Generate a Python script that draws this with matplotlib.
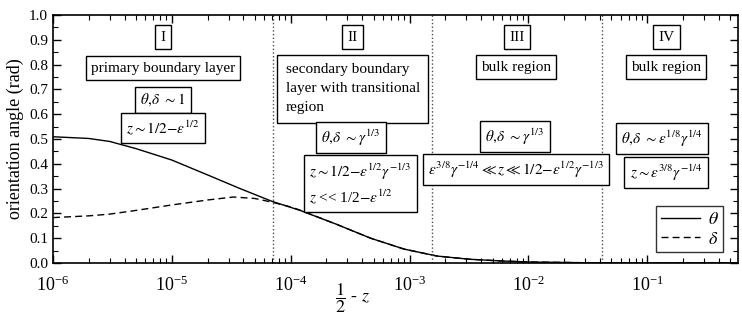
import matplotlib
matplotlib.use('Agg')
import matplotlib.pyplot as plt
from matplotlib.ticker import MultipleLocator, FormatStrFormatter

plt.rcParams['font.family'] = ['Liberation Serif', 'DejaVu Serif']
plt.rcParams['mathtext.fontset'] = 'stix'

# theta curve
x_theta = [1e-6, 2e-6, 3e-6, 5e-6, 1e-5, 2e-5, 3.75e-5, 7e-5, 1.2e-4, 2.4e-4,
           4.7e-4, 9e-4, 1.7e-3, 3.2e-3, 6e-3, 1e-2, 3e-2, 0.1, 0.58]
theta = [0.509, 0.502, 0.49, 0.461, 0.415, 0.355, 0.30, 0.248, 0.212, 0.157,
         0.100, 0.056, 0.028, 0.015, 0.008, 0.004, 0.001, 0.0, 0.0]

# delta curve
x_delta = [1e-6, 2e-6, 3e-6, 5e-6, 1e-5, 2e-5, 3.3e-5, 5e-5, 7e-5, 1e-4, 1.2e-4,
           2.4e-4, 4.7e-4, 9e-4, 1.7e-3, 3.2e-3, 6e-3, 1e-2, 3e-2, 0.1, 0.58]
delta = [0.183, 0.19, 0.197, 0.212, 0.234, 0.254, 0.266, 0.26, 0.245, 0.226, 0.213,
         0.157, 0.100, 0.056, 0.028, 0.015, 0.008, 0.004, 0.001, 0.0, 0.0]

# region boundaries
boundaries = [7.06e-5, 1.54e-3, 0.0415]

fig = plt.figure(figsize=(7.42, 3.18), dpi=100)
ax = fig.add_axes([0.0714, 0.173, 0.9232, 0.78])

ax.plot(x_theta, theta, color='black', lw=1.0, label=r'$\theta$')
ax.plot(x_delta, delta, color='black', lw=1.0, dashes=(5, 3), label=r'$\delta$')

for b in boundaries:
    ax.axvline(b, color='0.3', ls=':', lw=1.0)

ax.set_xscale('log')
ax.set_xlim(1e-6, 0.58)
ax.set_ylim(0, 1.0)
ax.yaxis.set_major_locator(MultipleLocator(0.1))
ax.yaxis.set_minor_locator(MultipleLocator(0.05))
ax.yaxis.set_major_formatter(FormatStrFormatter('%.1f'))
ax.tick_params(which='both', direction='in', top=True, right=True, labelsize=11)
ax.tick_params(axis='x', labelsize=13, pad=9)
ax.tick_params(which='major', length=6, width=1)
ax.tick_params(which='minor', length=3.5, width=0.8)
for s in ax.spines.values():
    s.set_linewidth(1.2)

ax.set_ylabel('orientation angle (rad)', fontsize=13, labelpad=4)
ax.set_xlabel(r'$\dfrac{1}{2}$ - $z$', fontsize=13)
ax.xaxis.set_label_coords(0.437, -0.075)

box = dict(boxstyle='square,pad=0.35', fc='white', ec='black', lw=1.0)
fs = 11

def lab(x, y, s, ha='center', bb=box, ls=1.2):
    ax.text(x, y, s, transform=ax.transAxes, ha=ha, va='center', fontsize=fs, bbox=bb,
            linespacing=ls)

# region I
lab(0.1606, 0.911, 'I')
lab(0.1606, 0.786, 'primary boundary layer')
lab(0.1606, 0.657, r'$\theta,\!\delta\ \sim 1$')
lab(0.1606, 0.544, r'$z \sim 1/2{-}\varepsilon^{1/2}$')

# region II
lab(0.4375, 0.911, 'II')
lab(0.3397, 0.702, 'secondary boundary\nlayer with transitional\nregion', ha='left',
    bb=dict(boxstyle='square,pad=0.55', fc='white', ec='black', lw=1.0), ls=1.6)
lab(0.435, 0.504, r'$\theta,\!\delta\ \sim \gamma^{1/3}$')
lab(0.3737, 0.3185, '$z \\sim 1/2{-}\\varepsilon^{1/2}\\gamma^{-1/3}$\n$z$ << 1/2$-\\varepsilon^{1/2}$',
    ha='left', ls=1.4)

# region III
lab(0.677, 0.911, 'III')
lab(0.676, 0.790, 'bulk region')
lab(0.6745, 0.508, r'$\theta,\!\delta\ \sim \gamma^{1/3}$')
lab(0.676, 0.375, r'$\varepsilon^{3/8}\gamma^{-1/4} \ll z \ll 1/2{-}\varepsilon^{1/2}\gamma^{-1/3}$')

# region IV
lab(0.896, 0.911, 'IV')
lab(0.895, 0.790, 'bulk region')
lab(0.889, 0.500, r'$\theta,\!\delta\ \sim \varepsilon^{1/8}\gamma^{1/4}$')
lab(0.895, 0.363, r'$z \sim \varepsilon^{3/8}\gamma^{-1/4}$')

leg = ax.legend(loc='lower right', bbox_to_anchor=(0.978, 0.044), borderaxespad=0,
                fontsize=13, frameon=True, fancybox=False, edgecolor='black',
                handlelength=2.2, borderpad=0.25, labelspacing=0.15, handletextpad=0.4)
leg.get_frame().set_linewidth(1.0)

fig.savefig('out.png', dpi=100)
